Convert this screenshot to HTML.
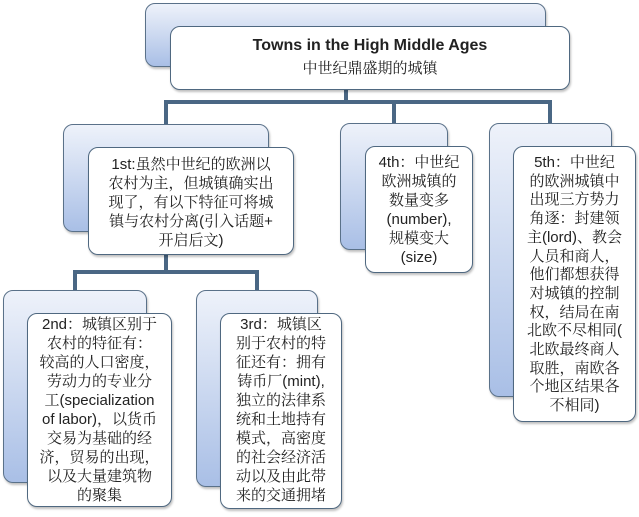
<!DOCTYPE html>
<html><head><meta charset="utf-8"><style>
body{margin:0;width:639px;height:517px;background:#fff;position:relative;overflow:hidden;font-family:"Liberation Sans","Noto Serif CJK SC",serif;}
.b{position:absolute;border:1.5px solid #5a7189;border-radius:10px;box-sizing:border-box;background:linear-gradient(#eef2fa,#a9bfe6);box-shadow:1px 2px 2px rgba(0,0,0,.25);}
.f{position:absolute;border:1.5px solid #4f6880;border-radius:10px;box-sizing:border-box;background:#fff;text-align:center;font-size:15px;line-height:19px;color:#222;padding-top:6px;box-shadow:1px 2px 2px rgba(0,0,0,.25);white-space:nowrap;}
.l{position:absolute;background:#4a6784;}
</style></head><body>
<div class="l" style="left:344px;top:88px;width:4px;height:16px"></div>
<div class="l" style="left:164px;top:100px;width:388px;height:4px"></div>
<div class="l" style="left:164px;top:100px;width:4px;height:26px"></div>
<div class="l" style="left:392px;top:100px;width:4px;height:26px"></div>
<div class="l" style="left:548px;top:100px;width:4px;height:26px"></div>
<div class="l" style="left:164px;top:253px;width:4px;height:20px"></div>
<div class="l" style="left:73px;top:270px;width:186px;height:4px"></div>
<div class="l" style="left:73px;top:270px;width:4px;height:22px"></div>
<div class="l" style="left:255px;top:270px;width:4px;height:22px"></div>

<div class="b" style="left:145px;top:3px;width:401px;height:64px"></div>
<div class="f" style="left:170px;top:26px;width:400px;height:64px;padding-top:9px;"><div style="font-weight:bold;font-size:16px;">Towns in the High Middle Ages</div><div style="font-size:15px;margin-top:4px;">中世纪鼎盛期的城镇</div></div>

<div class="b" style="left:63px;top:124px;width:206px;height:108px"></div>
<div class="f" style="left:88px;top:147px;width:206px;height:108px;padding-top:7px">1st:虽然中世纪的欧洲以<br>农村为主，但城镇确实出<br>现了，有以下特征可将城<br>镇与农村分离(引入话题+<br>开启后文)</div>

<div class="b" style="left:340px;top:123px;width:108px;height:127px"></div>
<div class="f" style="left:365px;top:146px;width:108px;height:127px">4th：中世纪<br>欧洲城镇的<br>数量变多<br>(number),<br>规模变大<br>(size)</div>

<div class="b" style="left:489px;top:123px;width:123px;height:274px"></div>
<div class="f" style="left:513px;top:146px;width:123px;height:276px;line-height:18.7px;padding-top:7px">5th：中世纪<br>的欧洲城镇中<br>出现三方势力<br>角逐：封建领<br>主(lord)、教会<br>人员和商人，<br>他们都想获得<br>对城镇的控制<br>权，结局在南<br>北欧不尽相同(<br>北欧最终商人<br>取胜，南欧各<br>个地区结果各<br>不相同)</div>

<div class="b" style="left:3px;top:290px;width:144px;height:193px"></div>
<div class="f" style="left:27px;top:313px;width:145px;height:194px;padding-top:1px">2nd：城镇区别于<br>农村的特征有：<br>较高的人口密度，<br>劳动力的专业分<br>工(specialization<br>of labor)，以货币<br>交易为基础的经<br>济，贸易的出现，<br>以及大量建筑物<br>的聚集</div>

<div class="b" style="left:196px;top:290px;width:122px;height:197px"></div>
<div class="f" style="left:220px;top:313px;width:122px;height:196px;padding-top:1px">3rd：城镇区<br>别于农村的特<br>征还有：拥有<br>铸币厂(mint),<br>独立的法律系<br>统和土地持有<br>模式，高密度<br>的社会经济活<br>动以及由此带<br>来的交通拥堵</div>
</body></html>
